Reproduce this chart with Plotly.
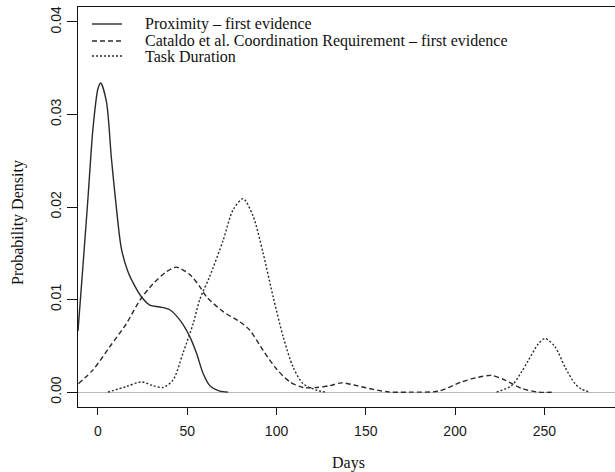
import plotly.graph_objects as go

# ---- data ----
prox_days = [-11.2, -8.4, -5.6, -2.8, 0, 1.5, 4.7, 7.5, 10.3, 13.1, 16.8, 20.5, 24.3, 29, 34.6,
             40.2, 45.8, 51.4, 55.2, 58.9, 62.6, 68.2, 72.9]
prox_dens = [0.0066, 0.0137, 0.021, 0.0285, 0.0328, 0.0334, 0.0314, 0.0253, 0.0199, 0.0155, 0.013,
             0.0115, 0.0103, 0.0094, 0.0092, 0.0089, 0.0078, 0.006, 0.0042, 0.002, 0.0007, 0.0001, 0.0]

cat_days = [-11, -2.8, 6.6, 15.9, 23.4, 30.8, 38.3, 43.9, 51.4, 57, 60.8, 70.1, 79.4, 85, 92.5,
            100, 107.5, 114.9, 122.4, 129.9, 136.4, 144.8, 154.1, 163.5, 175, 190.6, 203.7, 213,
            220.5, 228, 237.3, 246.6, 256]
cat_dens = [0.0009, 0.0024, 0.0049, 0.0074, 0.0099, 0.0117, 0.013, 0.0135, 0.0127, 0.0114, 0.0103,
            0.0087, 0.0076, 0.0067, 0.0045, 0.0025, 0.0011, 0.0005, 0.0005, 0.0007, 0.001, 0.0007,
            0.0003, 0.0, 0.0, 0.0001, 0.0011, 0.0016, 0.0018, 0.0013, 0.0004, 0.0, 0.0]

task_days = [5.6, 15.9, 24.3, 30.8, 36.4, 42, 47.6, 53.3, 57, 62.6, 70.1, 75.7, 81.3, 86.9, 92.5,
             98.1, 103.7, 109.3, 114.9, 122.4, 128, None,
             223.3, 231.7, 237.3, 241, 246.6, 250.4, 256, 261.6, 267.2, 271, 275.6]
task_dens = [0, 0.0006, 0.0011, 0.0007, 0.0005, 0.0013, 0.0042, 0.0074, 0.0100, 0.0125, 0.0164,
             0.0197, 0.0209, 0.019, 0.015, 0.0103, 0.006, 0.0027, 0.0009, 0.0002, 0, None,
             0, 0.0007, 0.0022, 0.0034, 0.0052, 0.0058, 0.0049, 0.0027, 0.0009, 0.0003, 0]

series_names = ["Proximity \u2013 first evidence",
                "Cataldo et al. Coordination Requirement \u2013 first evidence",
                "Task Duration"]

x_ticks = [0, 50, 100, 150, 200, 250]
x_ticktext = ["0", "50", "100", "150", "200", "250"]
y_ticks = [0.0, 0.01, 0.02, 0.03, 0.04]
y_ticktext = ["0.00", "0.01", "0.02", "0.03", "0.04"]

# ---- layout geometry (pixels) ----
W, H = 615, 472
L, R, T, B = 78, 0, 7, 65
PW, PH = W - L - R, H - T - B


def px_x(p):
    return (p - L) / PW


def px_y(p):
    return (H - B - p) / PH


LINE_COL = "#2a2a2a"
dashes = ["solid", "5px,3px", "2px,2px"]
serif = "Liberation Serif, Times New Roman, serif"
sans = "Liberation Sans, Arial, sans-serif"

fig = go.Figure()
for xs, ys, name, dash in [(prox_days, prox_dens, series_names[0], dashes[0]),
                           (cat_days, cat_dens, series_names[1], dashes[1]),
                           (task_days, task_dens, series_names[2], dashes[2])]:
    fig.add_trace(go.Scatter(x=xs, y=ys, mode="lines", name=name,
                             line=dict(color=LINE_COL, width=1.4, dash=dash, shape="spline",
                                       smoothing=0.8),
                             connectgaps=False, showlegend=False, hoverinfo="skip"))

# manual legend (tight R-style spacing)
leg_rows = [24, 41, 56]
shapes = []
annotations = []
for i, (name, dash) in enumerate(zip(series_names, dashes)):
    yy = px_y(leg_rows[i])
    shapes.append(dict(type="line", xref="paper", yref="paper",
                       x0=px_x(92), x1=px_x(122), y0=yy, y1=yy,
                       line=dict(color=LINE_COL, width=1.4, dash=dash)))
    annotations.append(dict(xref="paper", yref="paper", x=px_x(143), y=yy,
                            text=name, showarrow=False, xanchor="left", yanchor="middle",
                            font=dict(family=serif, size=16, color="#111")))

annotations.append(dict(xref="paper", yref="paper", x=px_x(348), y=px_y(463),
                        text="Days", showarrow=False, xanchor="center", yanchor="middle",
                        font=dict(family=serif, size=16, color="#111")))
annotations.append(dict(xref="paper", yref="paper", x=px_x(18), y=px_y(223),
                        text="Probability Density", showarrow=False, textangle=-90,
                        xanchor="center", yanchor="middle",
                        font=dict(family=serif, size=16, color="#111")))

fig.update_layout(
    width=W, height=H, autosize=False,
    margin=dict(l=L, r=R, t=T, b=B, pad=0),
    paper_bgcolor="white", plot_bgcolor="white",
    shapes=shapes, annotations=annotations,
    showlegend=False,
)
fig.update_xaxes(range=[-11.2, 289.6], tickvals=x_ticks, ticktext=x_ticktext,
                 showgrid=False, zeroline=False, showline=True, mirror=True,
                 linecolor="#111", linewidth=1, ticks="outside", ticklen=7,
                 tickcolor="#111", ticklabelstandoff=4,
                 tickfont=dict(family=sans, size=14, color="#1a1a1a"))
fig.update_yaxes(range=[-0.00161, 0.04161], tickvals=y_ticks, ticktext=y_ticktext,
                 showgrid=False, zeroline=True, zerolinecolor="#b8b8b8", zerolinewidth=1,
                 showline=True, mirror=False, linecolor="#111", linewidth=1,
                 ticks="outside", ticklen=10, tickcolor="#111", tickangle=-90,
                 tickfont=dict(family=sans, size=14, color="#1a1a1a"))

fig.write_html("out.html", config={"displayModeBar": False, "staticPlot": True},
               post_script="document.body.style.margin='0';document.body.style.overflow='hidden';")
